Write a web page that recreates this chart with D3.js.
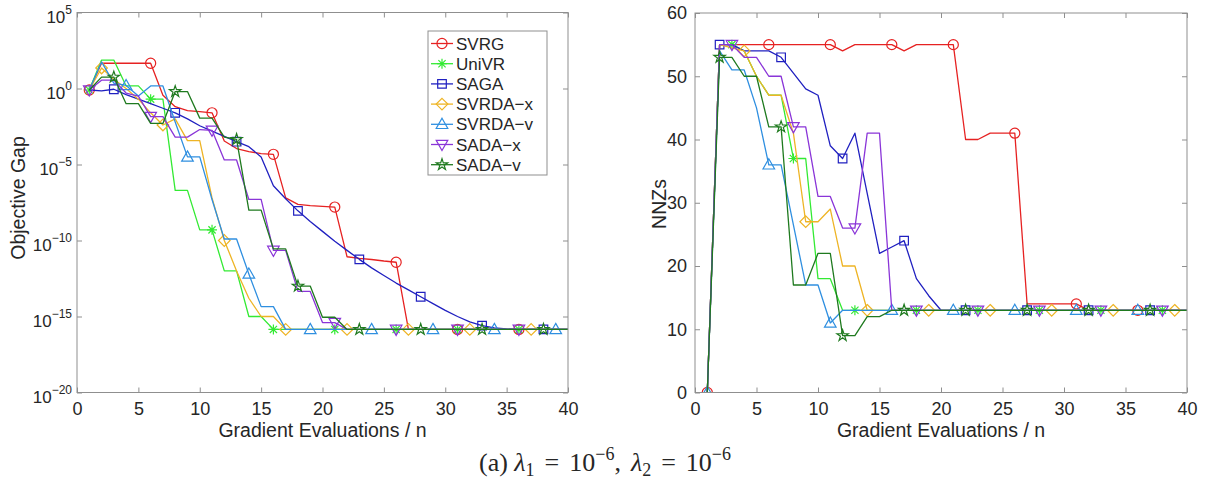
<!DOCTYPE html>
<html><head><meta charset="utf-8">
<script src="https://cdn.jsdelivr.net/npm/d3@7"></script>
<style>
body{margin:0;background:#fff;}
svg text{font-family:"Liberation Sans","Noto Sans",sans-serif;fill:#262626;}
</style></head><body>
<svg id="chart" width="1210" height="486"></svg>
<script>
// ---------- data ----------
const evals = [1,2,3,4,5,6,7,8,9,10,11,12,13,14,15,16,17,18,19,20,21,22,23,24,25,26,27,28,29,30,31,32,33,34,35,36,37,38,39,40];
const methods = ["SVRG","UniVR","SAGA","SVRDA\u2212x","SVRDA\u2212v","SADA\u2212x","SADA\u2212v"];

// left panel: log10 of objective gap
const F = -15.85;
const gapSVRG   = [-0.1,1.66,1.66,1.66,1.66,1.66,-0.45,-1.2,-1.45,-1.52,-1.6,-3.45,-3.95,-4.15,-4.28,-4.33,-7.2,-7.62,-7.7,-7.75,-7.8,-11.07,-11.17,-11.25,-11.35,-11.43,F,F,F,F,F,F,F,F,F,F,F,F,F,F];
const gapUniVR  = [-0.1,1.87,1.87,0.17,0.17,-0.7,-0.7,-6.7,-6.7,-9.3,-9.3,-12.0,-12.0,-15.0,-15.0,F,F,F,F,F,F,F,F,F,F,F,F,F,F,F,F,F,F,F,F,F,F,F,F,F];
const gapSAGA   = [-0.1,-0.15,-0.05,-0.4,-0.7,-1.0,-1.3,-1.6,-2.0,-2.45,-2.8,-3.15,-3.5,-3.83,-4.5,-6.4,-7.25,-8.05,-8.75,-9.4,-10.05,-10.65,-11.24,-11.8,-12.3,-12.8,-13.25,-13.7,-14.15,-14.6,-15.0,-15.35,-15.6,-15.75,-15.82,F,F,F,F,F];
const gapSVRDAx = [-0.1,1.35,0.6,0.0,-0.7,-1.6,-2.4,-2.0,-3.43,-3.43,-7.2,-10.0,-12.0,-13.8,-15.0,-15.0,F,F,F,F,F,F,F,F,F,F,F,F,F,F,F,F,F,F,F,F,F,F,F,F];
const gapSVRDAv = [-0.1,1.75,0.35,0.2,-0.5,0.17,0.17,-2.2,-4.5,-4.5,-7.3,-9.9,-9.9,-12.2,-14.35,-14.35,F,F,F,F,F,F,F,F,F,F,F,F,F,F,F,F,F,F,F,F,F,F,F,F];
const gapSADAx  = [-0.1,0.55,0.55,-0.3,-0.5,-1.85,-1.85,-3.2,-3.2,-2.7,-2.75,-4.7,-4.7,-7.3,-7.3,-10.65,-10.65,-13.35,-13.35,-15.4,-15.4,F,F,F,F,F,F,F,F,F,F,F,F,F,F,F,F,F,F,F];
const gapSADAv  = [-0.1,0.75,0.75,-1.0,-1.0,-2.3,-2.3,-0.2,-0.2,-1.95,-1.95,-3.2,-3.35,-8.0,-8.0,-10.55,-10.55,-13.0,-13.0,-15.05,-15.05,F,F,F,F,F,F,F,F,F,F,F,F,F,F,F,F,F,F,F];

// right panel: number of non-zeros
const nnzSVRG   = [0,55,55,55,55,55,55,55,55,55,55,54,55,55,55,55,54,55,55,55,55,40,40,41,41,41,14,14,14,14,14,13,13,13,13,13,13,13,13,13];
const nnzUniVR  = [0,55,55,54,50,47,47,37,37,18,18,13,13,13,13,13,13,13,13,13,13,13,13,13,13,13,13,13,13,13,13,13,13,13,13,13,13,13,13,13];
const nnzSAGA   = [0,55,55,54,54,54,53,50.5,48,47,39,37,41,31.5,22,23,24,18,15.3,13,13,13,13,13,13,13,13,13,13,13,13,13,13,13,13,13,13,13,13,13];
const nnzSVRDAx = [0,55,54.5,54,50,47,47,41,27,27,29,20,20,13,13,13,13,13,13,13,13,13,13,13,13,13,13,13,13,13,13,13,13,13,13,13,13,13,13,13];
const nnzSVRDAv = [0,54,51,51,45,36,36,26.5,17,17,11,13,13,13,13,13,13,13,13,13,13,13,13,13,13,13,13,13,13,13,13,13,13,13,13,13,13,13,13,13];
const nnzSADAx  = [0,55,55,53,53,50,50,42,42,31,31,26,26,41,41,13,13,13,13,13,13,13,13,13,13,13,13,13,13,13,13,13,13,13,13,13,13,13,13,13];
const nnzSADAv  = [0,53,53,50,50,42,42,17,17,22,22,9,9,12,12,13,13,13,13,13,13,13,13,13,13,13,13,13,13,13,13,13,13,13,13,13,13,13,13,13];

// first marked evaluation for each method (marks every 5th point)
const markStartLeft  = [1,1,3,2,4,1,3];
const markStartRight = [1,3,2,4,1,3,2];

const xTicks = [0,5,10,15,20,25,30,35,40];
const gapTickExp = [5,0,-5,-10,-15,-20];
const nnzTicks = [0,10,20,30,40,50,60];

// ---------- styles ----------
const colors = ["#e62222","#33ea33","#2020c0","#eeb425","#2f8fe0","#8a35d8","#1f7a1f"];
const shapes = ["circle","asterisk","square","diamond","triangle","triangleDown","star"];
const TICK_FS = 18, TITLE_FS = 19.5, LEG_FS = 17;

const svg = d3.select("#chart");
const axisColor = "#8f8f8f";

function markerPath(shape){
  switch(shape){
    case "circle": return d3.symbol(d3.symbolCircle, 80)();
    case "square": return "M-4.3,-4.3H4.3V4.3H-4.3Z";
    case "diamond": return "M0,-5.8L5.8,0L0,5.8L-5.8,0Z";
    case "triangle": return "M0,-6L5.8,4.2H-5.8Z";
    case "triangleDown": return "M0,6L5.8,-4.2H-5.8Z";
    case "star": return d3.symbol(d3.symbolStar, 40)();
    case "asterisk": return "M-5,0H5M0,-5V5M-3.6,-3.6L3.6,3.6M-3.6,3.6L3.6,-3.6";
  }
}

function panel(opts){
  const {x0,x1,y0,y1,y,series,markStart,clipId} = opts;
  const x = d3.scaleLinear().domain([0,40]).range([x0,x1]);
  const g = svg.append("g");
  g.append("clipPath").attr("id",clipId).append("rect")
    .attr("x",x0).attr("y",y0).attr("width",x1-x0).attr("height",y1-y0);
  const plot = g.append("g").attr("clip-path",`url(#${clipId})`);
  series.forEach((vals,i)=>{
    const pts = evals.map((e,k)=>[e, vals[k]]);
    const line = d3.line().x(d=>x(d[0])).y(d=>y(d[1]));
    plot.append("path").attr("d",line(pts)).attr("fill","none")
      .attr("stroke",colors[i]).attr("stroke-width",1.3).attr("stroke-linejoin","round");
    const mk = pts.filter(d=> (d[0]-markStart[i])%5===0 && d[0]>=markStart[i]);
    plot.selectAll(null).data(mk).enter().append("path")
      .attr("transform",d=>`translate(${x(d[0])},${y(d[1])})`)
      .attr("d",markerPath(shapes[i])).attr("fill","none")
      .attr("stroke",colors[i]).attr("stroke-width",1.2);
  });
  g.append("rect").attr("x",x0).attr("y",y0).attr("width",x1-x0).attr("height",y1-y0)
    .attr("fill","none").attr("stroke",axisColor).attr("stroke-width",1);
  const ab = g.append("g").attr("transform",`translate(0,${y1})`)
    .call(d3.axisBottom(x).tickValues(xTicks).tickSizeInner(-5).tickSizeOuter(0).tickPadding(10));
  const at = g.append("g").attr("transform",`translate(0,${y0})`)
    .call(d3.axisTop(x).tickValues(xTicks).tickSizeInner(-5).tickSizeOuter(0).tickFormat(""));
  [ab,at].forEach(a=>{a.select(".domain").remove(); a.selectAll("line").attr("stroke",axisColor);});
  ab.selectAll("text").attr("font-size",TICK_FS).attr("fill","#262626")
    .attr("font-family",'"Liberation Sans","Noto Sans",sans-serif');
  g.append("text").attr("x",(x0+x1)/2).attr("y",y1+44).attr("text-anchor","middle")
    .attr("font-size",TITLE_FS).text("Gradient Evaluations / n");
  return {g,x};
}

// ---------- left panel ----------
const yL = d3.scaleLog().domain([1e-20,1e5]).range([392.5,12.5]);
const left = panel({x0:77,x1:568,y0:12.5,y1:392.5,
  y:v=>yL(Math.pow(10,v)),
  series:[gapSVRG,gapUniVR,gapSAGA,gapSVRDAx,gapSVRDAv,gapSADAx,gapSADAv],
  markStart:markStartLeft, clipId:"clipL"});
{
  const tv = gapTickExp.map(e=>Math.pow(10,e));
  const al = left.g.append("g").attr("transform","translate(77,0)")
    .call(d3.axisLeft(yL).tickValues(tv).tickSizeInner(-5).tickSizeOuter(0).tickFormat(""));
  const ar = left.g.append("g").attr("transform","translate(568,0)")
    .call(d3.axisRight(yL).tickValues(tv).tickSizeInner(-5).tickSizeOuter(0).tickFormat(""));
  [al,ar].forEach(a=>{a.select(".domain").remove(); a.selectAll("line").attr("stroke",axisColor);});
  gapTickExp.forEach(e=>{
    const t = left.g.append("text").attr("x",72).attr("y",yL(Math.pow(10,e))+10)
      .attr("text-anchor","end").attr("font-size",17);
    t.append("tspan").text("10");
    t.append("tspan").attr("dy",-9).attr("font-size",12).text(e<0?"\u2212"+(-e):String(e));
  });
  left.g.append("text").attr("transform","translate(18,198) rotate(-90)")
    .attr("text-anchor","middle").attr("dy","0.35em").attr("font-size",TITLE_FS).text("Objective Gap");

  // legend
  const lg = left.g.append("g");
  lg.append("rect").attr("x",428).attr("y",31).attr("width",119).attr("height",144)
    .attr("fill","#fff").attr("stroke",axisColor).attr("stroke-width",1);
  methods.forEach((m,i)=>{
    const yy = 43.5 + i*20.2;
    lg.append("line").attr("x1",431).attr("x2",453).attr("y1",yy).attr("y2",yy)
      .attr("stroke",colors[i]).attr("stroke-width",1.3);
    lg.append("path").attr("transform",`translate(442,${yy})`).attr("d",markerPath(shapes[i]))
      .attr("fill","none").attr("stroke",colors[i]).attr("stroke-width",1.2);
    lg.append("text").attr("x",456).attr("y",yy).attr("dy","0.36em").attr("font-size",LEG_FS).text(m);
  });
}

// ---------- right panel ----------
const yR = d3.scaleLinear().domain([0,60]).range([392.5,13]);
const right = panel({x0:695,x1:1187,y0:13,y1:392.5, y:v=>yR(v),
  series:[nnzSVRG,nnzUniVR,nnzSAGA,nnzSVRDAx,nnzSVRDAv,nnzSADAx,nnzSADAv],
  markStart:markStartRight, clipId:"clipR"});
{
  const al = right.g.append("g").attr("transform","translate(695,0)")
    .call(d3.axisLeft(yR).tickValues(nnzTicks).tickSizeInner(-5).tickSizeOuter(0).tickPadding(8));
  const ar = right.g.append("g").attr("transform","translate(1187,0)")
    .call(d3.axisRight(yR).tickValues(nnzTicks).tickSizeInner(-5).tickSizeOuter(0).tickFormat(""));
  [al,ar].forEach(a=>{a.select(".domain").remove(); a.selectAll("line").attr("stroke",axisColor);});
  al.selectAll("text").attr("font-size",TICK_FS).attr("fill","#262626")
    .attr("font-family",'"Liberation Sans","Noto Sans",sans-serif');
  right.g.append("text").attr("transform","translate(659,204) rotate(-90)")
    .attr("text-anchor","middle").attr("dy","0.35em").attr("font-size",TITLE_FS).text("NNZs");
}

// ---------- caption ----------
{
  const c = svg.append("text").attr("x",605).attr("y",471).attr("text-anchor","middle")
    .attr("font-size",26).style("font-family",'"Liberation Serif","DejaVu Serif",serif');
  const sp = 10, sub = 18;
  c.append("tspan").text("(a) ");
  c.append("tspan").attr("font-style","italic").text("λ");
  c.append("tspan").attr("font-size",sub).attr("dy",5).text("1");
  c.append("tspan").attr("dy",-5).attr("dx",sp).text("=");
  c.append("tspan").attr("dx",sp).text("10");
  c.append("tspan").attr("font-size",sub).attr("dy",-11).text("\u22126");
  c.append("tspan").attr("dy",11).text(",");
  c.append("tspan").attr("dx",sp).attr("font-style","italic").text("λ");
  c.append("tspan").attr("font-size",sub).attr("dy",5).text("2");
  c.append("tspan").attr("dy",-5).attr("dx",sp).text("=");
  c.append("tspan").attr("dx",sp).text("10");
  c.append("tspan").attr("font-size",sub).attr("dy",-11).text("\u22126");
}
</script>
</body></html>
